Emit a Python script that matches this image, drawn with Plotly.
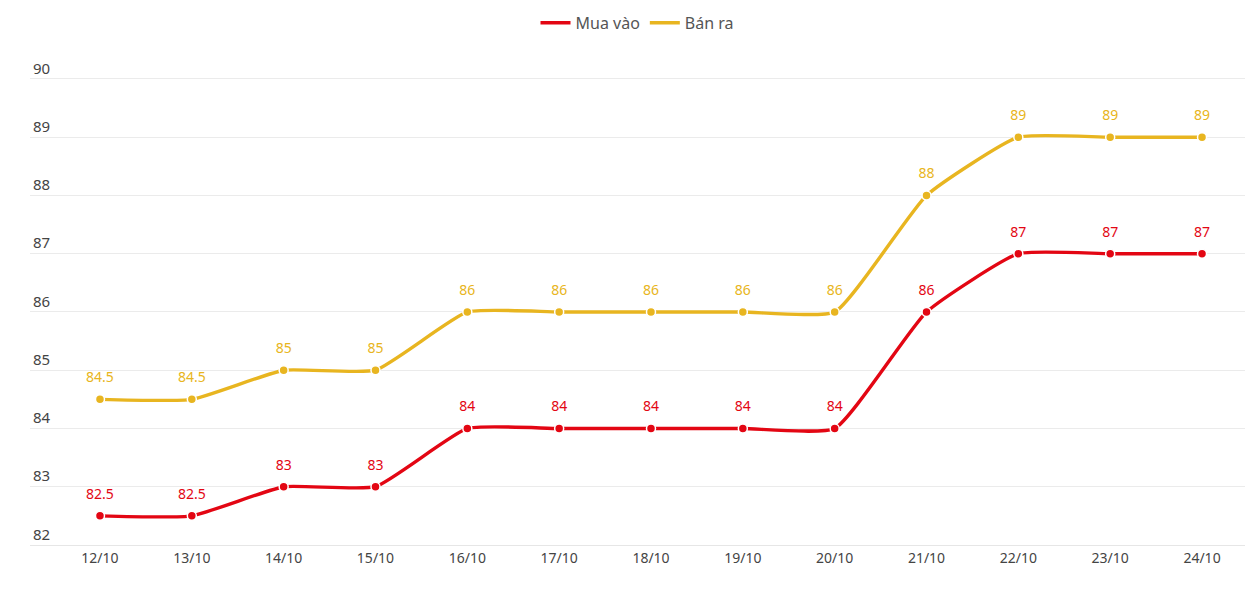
import plotly.graph_objects as go

dates = ["12/10", "13/10", "14/10", "15/10", "16/10", "17/10", "18/10",
         "19/10", "20/10", "21/10", "22/10", "23/10", "24/10"]
mua_vao = [82.5, 82.5, 83, 83, 84, 84, 84, 84, 84, 86, 87, 87, 87]
ban_ra = [84.5, 84.5, 85, 85, 86, 86, 86, 86, 86, 88, 89, 89, 89]
y_ticks = [82, 83, 84, 85, 86, 87, 88, 89, 90]

RED = "#e30613"
YELLOW = "#e8b520"

xs = list(range(len(dates)))
fig = go.Figure()
for name, vals, col in [("Mua vào", mua_vao, RED), ("Bán ra", ban_ra, YELLOW)]:
    fig.add_trace(go.Scatter(
        x=xs, y=vals, name=name, mode="lines",
        line=dict(color=col, width=3.4, shape="spline", smoothing=0.45),
        cliponaxis=False, hoverinfo="skip",
    ))
    fig.add_trace(go.Scatter(
        x=xs, y=vals, name=name, mode="markers", showlegend=False,
        marker=dict(size=9, color=col, line=dict(color="white", width=1.5)),
        cliponaxis=False,
    ))
    fig.add_trace(go.Scatter(
        x=xs, y=vals, name=name, mode="markers+text", showlegend=False,
        marker=dict(size=20, color=col, opacity=0),
        text=[f"{v:g}" for v in vals], textposition="top center",
        textfont=dict(color=col, size=14, family="Noto Sans"),
        cliponaxis=False, hoverinfo="skip",
    ))

fig.update_layout(
    width=1245, height=590,
    margin=dict(l=30, r=0, t=44, b=45),
    paper_bgcolor="white", plot_bgcolor="white",
    font=dict(family="Noto Sans", color="#444"),
    showlegend=True,
    legend=dict(orientation="h", x=0.5, xanchor="center", y=0.99, yref="container",
                yanchor="top", font=dict(size=16, color="#555"), itemwidth=30),
    xaxis=dict(
        tickmode="array", tickvals=xs, ticktext=dates,
        range=[-0.762, 12.468], showgrid=False, zeroline=False,
        showline=True, linecolor="#e6e6e6", linewidth=1,
        tickfont=dict(size=14, color="#444"),
    ),
    yaxis=dict(
        range=[82, 90.6], tickvals=y_ticks,
        showgrid=True, gridcolor="#ebebeb", gridwidth=1,
        zeroline=False, showline=False, ticklabelposition="inside top",
        tickfont=dict(size=15, color="#444"),
    ),
)

fig.write_html("out.html")
